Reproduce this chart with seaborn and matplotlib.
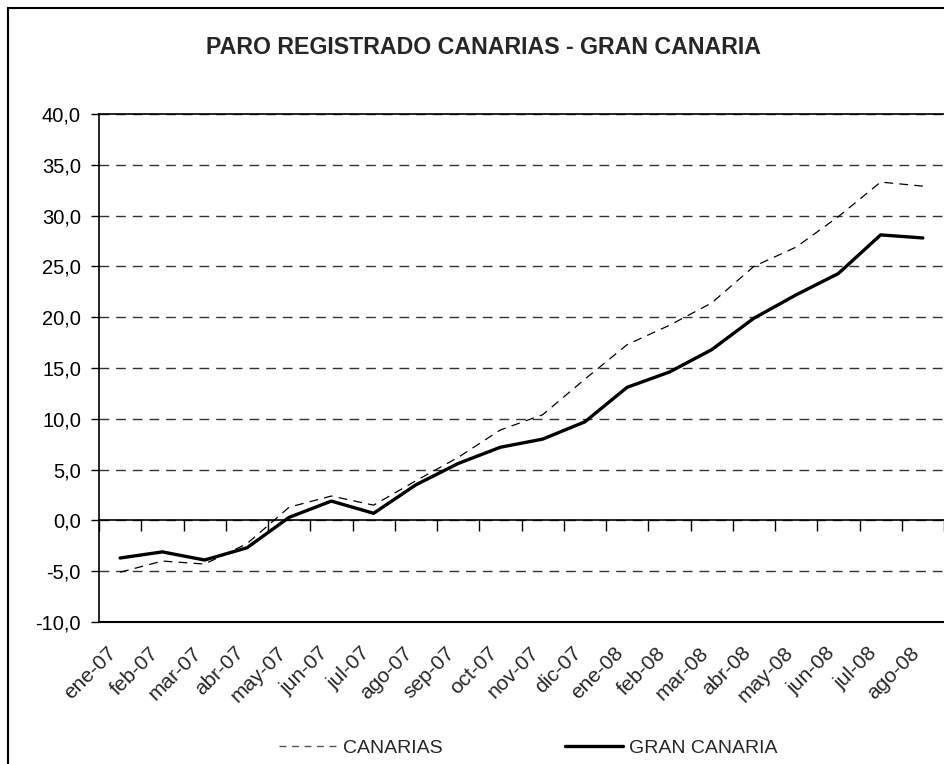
import numpy as np
import pandas as pd
import matplotlib
matplotlib.use("Agg")
import matplotlib.pyplot as plt
import matplotlib.patches as mpatches
import matplotlib.transforms as mtransforms
from matplotlib.ticker import FuncFormatter
import seaborn as sns

months = ["ene-07", "feb-07", "mar-07", "abr-07", "may-07", "jun-07", "jul-07",
          "ago-07", "sep-07", "oct-07", "nov-07", "dic-07", "ene-08", "feb-08",
          "mar-08", "abr-08", "may-08", "jun-08", "jul-08", "ago-08"]
canarias = [-5.1, -4.0, -4.3, -2.3, 1.3, 2.4, 1.5, 3.9, 6.2, 8.9, 10.4, 13.9,
            17.3, 19.2, 21.4, 25.0, 26.9, 29.9, 33.3, 32.9]
gran_canaria = [-3.7, -3.1, -3.9, -2.7, 0.3, 1.9, 0.7, 3.5, 5.6, 7.2, 8.0, 9.7,
                13.1, 14.6, 16.8, 19.9, 22.2, 24.3, 28.1, 27.8]
series_names = ["CANARIAS", "GRAN CANARIA"]
title = "PARO REGISTRADO CANARIAS - GRAN CANARIA"

sns.set_theme(style="white")
plt.rcParams["font.family"] = ["Liberation Sans", "DejaVu Sans"]

df = pd.DataFrame({
    "pos": list(range(len(months))) * 2,
    "mes": months * 2,
    "valor": canarias + gran_canaria,
    "serie": [series_names[0]] * len(months) + [series_names[1]] * len(months),
})

W, H = 944, 764
fig = plt.figure(figsize=(W / 100, H / 100), dpi=100)
ax = fig.add_axes([99 / W, 1 - 622 / H, 845 / W, (622 - 114) / H])

sns.lineplot(data=df[df.serie == series_names[0]], x="pos", y="valor", ax=ax,
             color="black", lw=0.9, linestyle=(0, (7, 5)), label=series_names[0],
             legend=False)
sns.lineplot(data=df[df.serie == series_names[1]], x="pos", y="valor", ax=ax,
             color="black", lw=2.4, label=series_names[1], legend=False)

ax.set_xlim(-0.5, len(months) - 0.5)
ax.set_ylim(-10, 40)
ax.set_yticks(np.arange(-10, 41, 5))
ax.yaxis.set_major_formatter(FuncFormatter(lambda v, p: f"{v:.1f}".replace(".", ",")))
ax.tick_params(axis="y", labelsize=14.5, length=6, width=1, color="black",
               direction="out", left=True, pad=7, labelcolor="black")
ax.yaxis.grid(True, linestyle=(0, (7, 5)), color="#333333", lw=1)
ax.xaxis.grid(False)
ax.set_xlabel("")
ax.set_ylabel("")

# category axis crossing at zero with boundary ticks
ax.spines["bottom"].set_position(("data", 0))
ax.spines["bottom"].set_color("black")
ax.spines["bottom"].set_linewidth(1.2)
ax.set_xticks(np.arange(len(months) + 1) - 0.5)
ax.set_xticklabels([])
ax.tick_params(axis="x", length=8, width=1, color="black", direction="out", bottom=True)
for s in ["left", "top"]:
    ax.spines[s].set_color("black")
    ax.spines[s].set_linewidth(1.2)
ax.spines["right"].set_visible(False)
ax.axhline(-10, color="black", lw=1.5, clip_on=False, zorder=5)

sec = ax.secondary_xaxis(0.0)
sec.set_xticks(range(len(months)))
sec.set_xticklabels(months, rotation=45, ha="right", rotation_mode="anchor", fontsize=15)
sec.tick_params(length=0, pad=8)
sec.spines["bottom"].set_visible(False)
offset = mtransforms.ScaledTranslation(-13 / 100, -10 / 100, fig.dpi_scale_trans)
for lbl in sec.get_xticklabels():
    lbl.set_transform(lbl.get_transform() + offset)

fig.text(484 / W, 1 - 47 / H, title, ha="center", va="center",
         fontsize=16.7, fontweight="bold")

handles = [
    plt.Line2D([], [], color="#555555", lw=1, linestyle=(0, (5, 4))),
    plt.Line2D([], [], color="black", lw=2.4),
]
fig.legend(handles, series_names, loc="center", bbox_to_anchor=(528 / W, 1 - 748 / H),
           ncol=2, frameon=False, fontsize=14, handlelength=3.0, handletextpad=0.3,
           columnspacing=6.3)

fig.patches.append(mpatches.Rectangle((8 / W, -0.1), 1.2, 1 - 8 / H + 0.1,
                                      transform=fig.transFigure, fill=False,
                                      edgecolor="black", lw=1.5))

fig.savefig("out.png", dpi=100)
